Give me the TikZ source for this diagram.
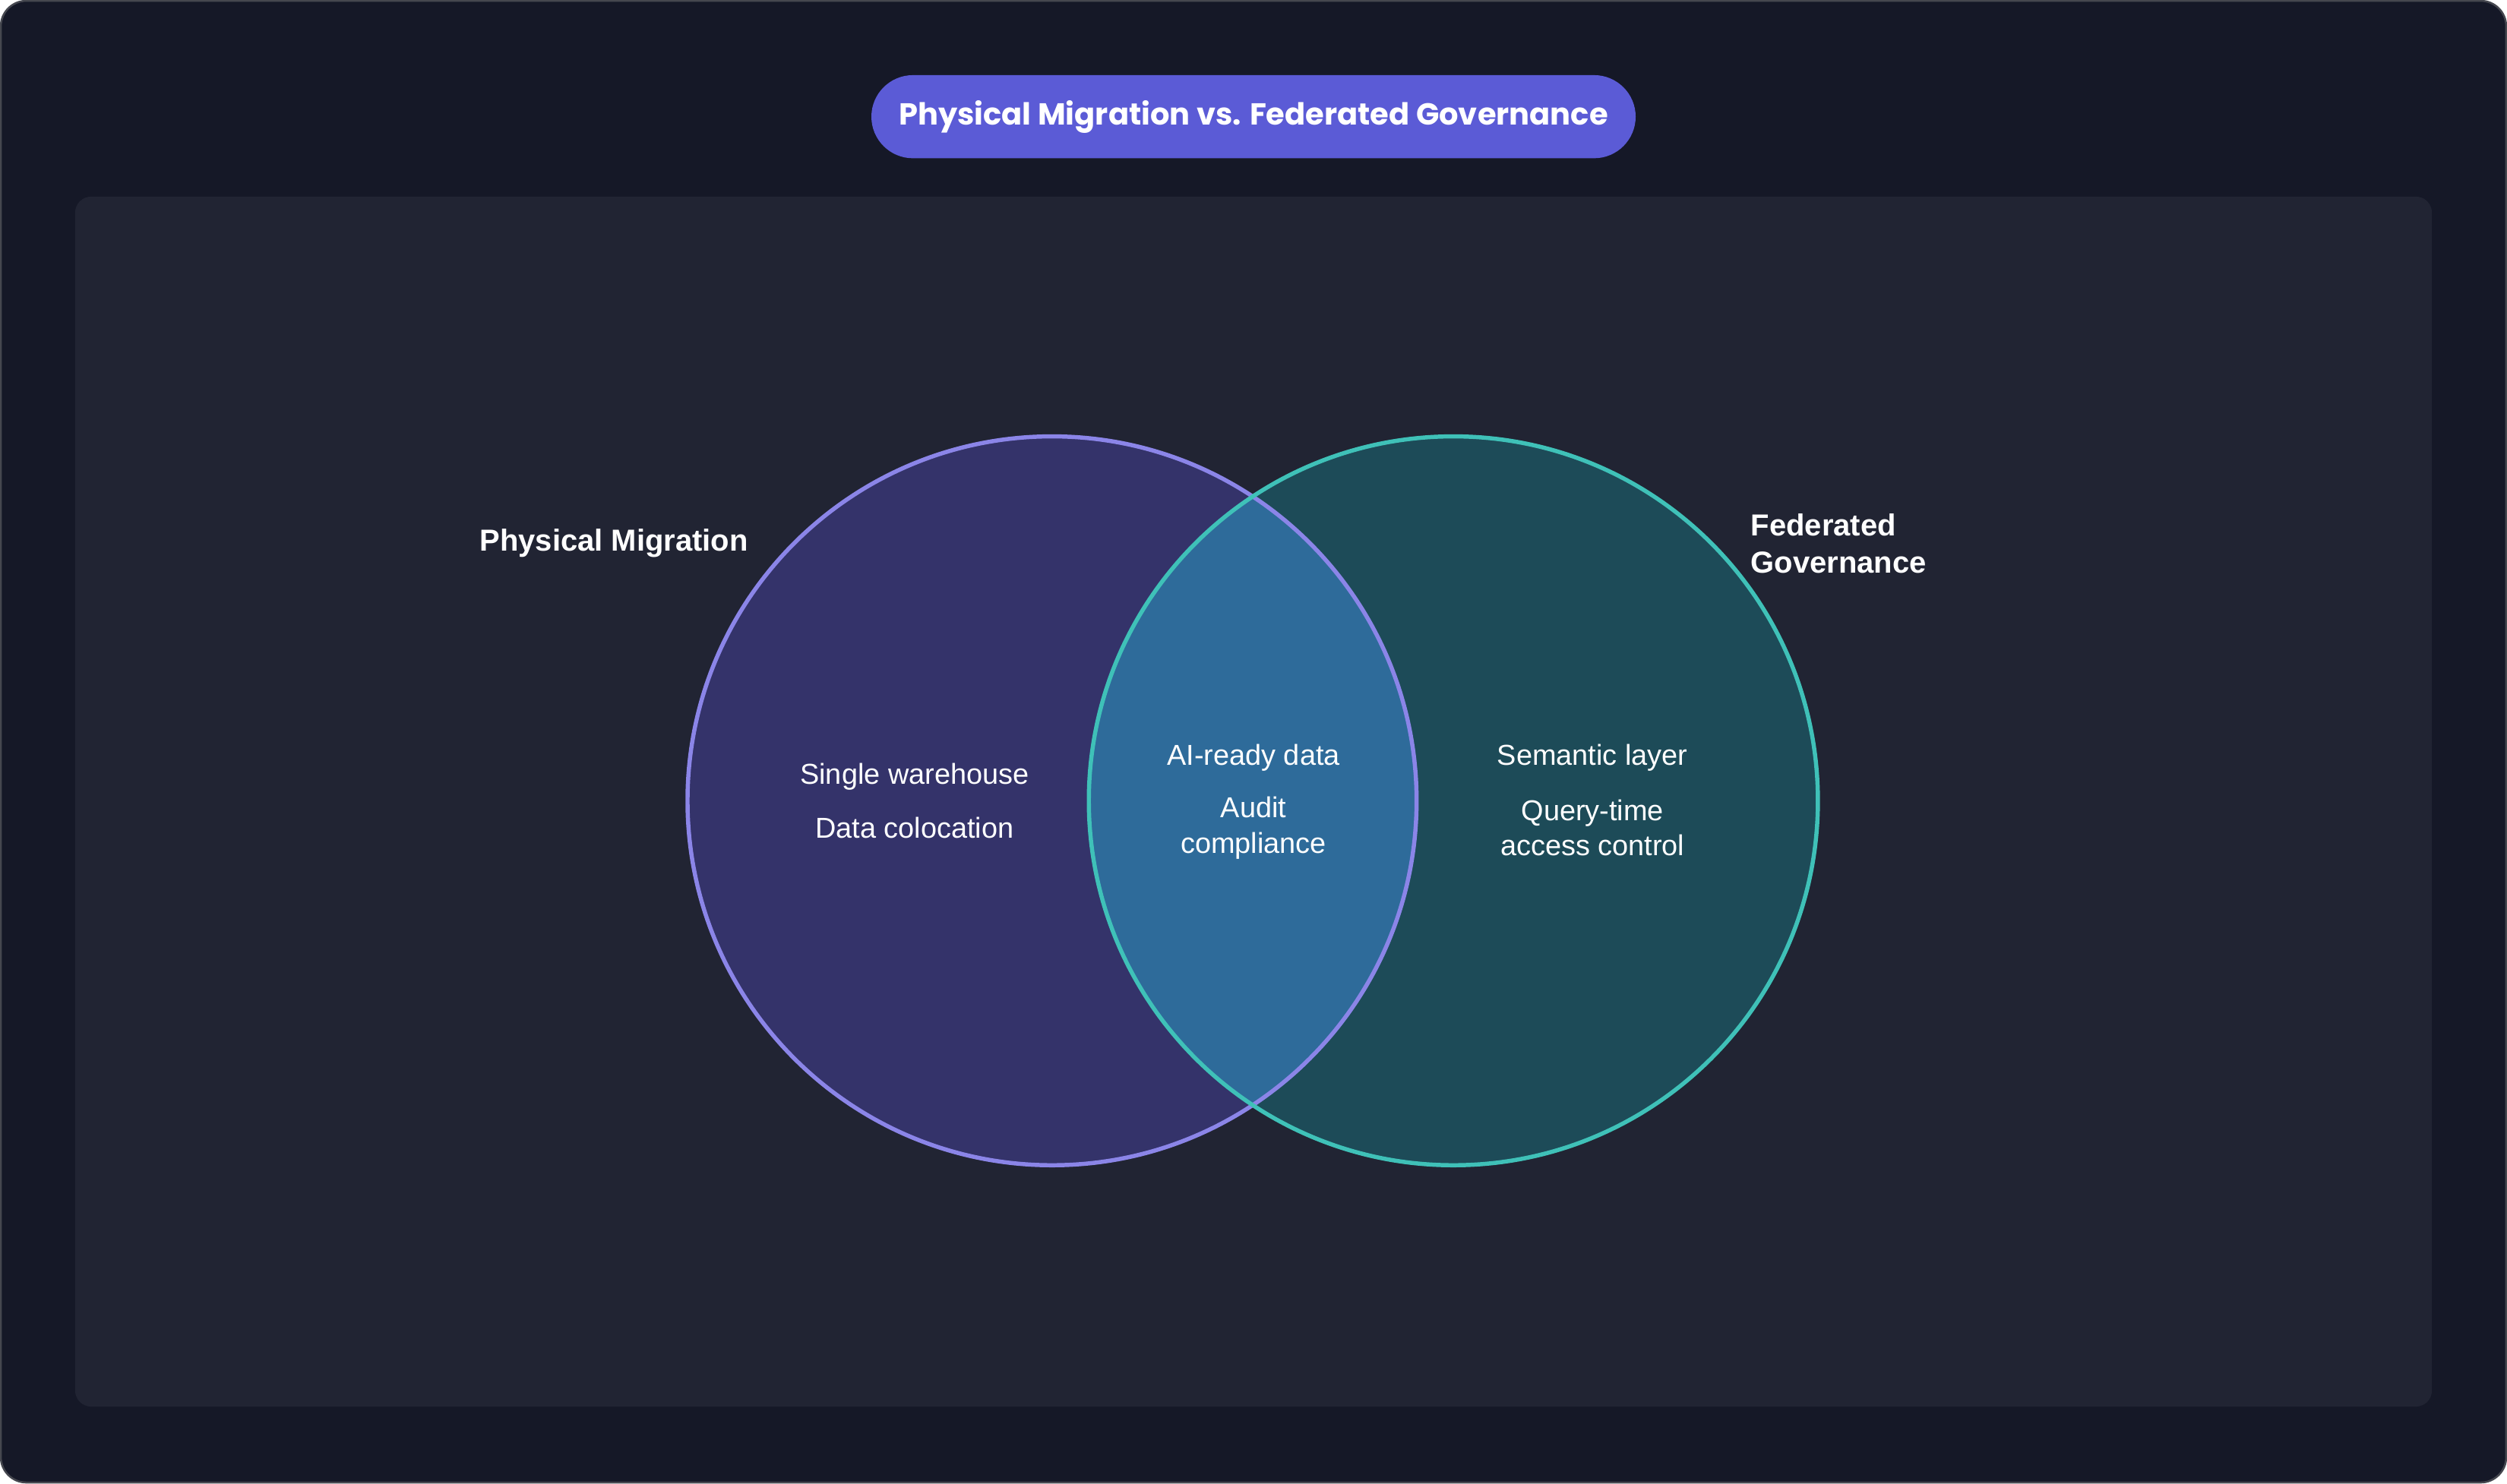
\documentclass[tikz,border=0pt]{standalone}
\usepackage{fontspec}
\setmainfont{Liberation Sans}
\newfontfamily\titlefont{Poppins}
\usetikzlibrary{positioning}
\definecolor{frameBg}{HTML}{151827}
\definecolor{panelBg}{HTML}{212433}
\definecolor{pillBlue}{HTML}{5B5BD6}
\definecolor{migFill}{HTML}{34336A}
\definecolor{migLine}{HTML}{8B85E8}
\definecolor{fedFill}{HTML}{1D4B58}
\definecolor{fedLine}{HTML}{3FC1B8}
\definecolor{bothFill}{HTML}{2E6B9A}
\tikzset{
  setText/.style={text=white, font=\fontsize{9}{11}\selectfont, align=center},
  setTitle/.style={text=white, font=\fontsize{9.5}{11.5}\selectfont\bfseries},
}
\begin{document}
\begin{tikzpicture}[x=0.5pt,y=-0.5pt]

		\useasboundingbox (0,0) rectangle (1568,928);
		\fill[white] (0,0) rectangle (1568,928);
		\draw[fill=frameBg, draw=gray!45!frameBg, line width=0.6pt, rounded corners=8pt] (0.5,0.5) rectangle (1567.5,927.5);
		\fill[panelBg, rounded corners=5pt] (47,123) rectangle (1521,880);

		\node[rectangle, rounded corners=13pt, fill=pillBlue, minimum width=239pt, minimum height=26pt, text=white, font=\titlefont\fontsize{9.5}{11}\selectfont\bfseries](titlePill) at (784,73){Physical Migration vs. Federated Governance};

		\coordinate (migCenter) at (658,501);
		\coordinate (fedCenter) at (909,501);

		\fill[migFill] (migCenter) circle (228);
		\fill[fedFill] (fedCenter) circle (228);
		\begin{scope}
			\clip (migCenter) circle (228);
			\fill[bothFill] (fedCenter) circle (228);
		\end{scope}
		\draw[migLine, line width=1.3pt] (migCenter) circle (228);
		\draw[fedLine, line width=1.3pt] (fedCenter) circle (228);

		\node[setTitle](migLabel) at (384,340){Physical Migration};
		\node[setTitle, align=left, anchor=west](fedLabel) at (1088,340){Federated\\Governance};

		\node[setText](single) at (572,486){Single warehouse};
		\node[setText](coloc) at (572,518){Data colocation};

		\node[setText](aiReady) at (784,474){AI-ready data};
		\node[setText](audit) at (784,518){Audit\\compliance};

		\node[setText](semantic) at (996,474){Semantic layer};
		\node[setText](query) at (996,518){Query-time\\access control};

	\end{tikzpicture}
\end{document}
